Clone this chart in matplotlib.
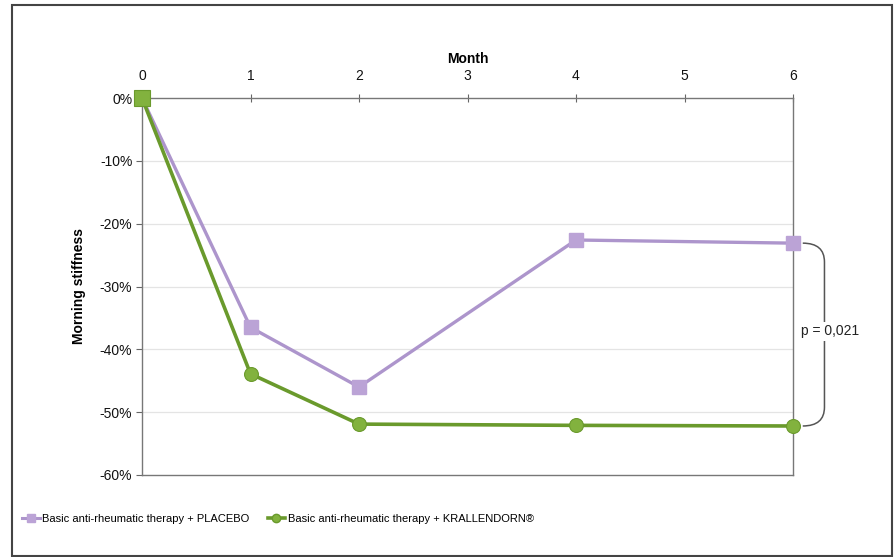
import matplotlib
matplotlib.use("Agg")
import matplotlib.pyplot as plt
from matplotlib.path import Path
from matplotlib.patches import PathPatch, Rectangle
from matplotlib.lines import Line2D
from matplotlib.ticker import FuncFormatter

plt.rcParams['font.family'] = ['Liberation Sans', 'DejaVu Sans']

# Data: change in morning stiffness (%) versus month
months = [0, 1, 2, 4, 6]
placebo = [0.0, -36.5, -46.0, -22.6, -23.1]
krallendorn = [0.0, -43.9, -51.9, -52.1, -52.2]
month_ticks = [0, 1, 2, 3, 4, 5, 6]
pct_ticks = [0, -10, -20, -30, -40, -50, -60]
label_placebo = "Basic anti-rheumatic therapy + PLACEBO"
label_krall = "Basic anti-rheumatic therapy + KRALLENDORN®"
p_text = "p = 0,021"

purple_line = "#ad95cc"
purple_face = "#bba3d6"
green_line = "#6a9a2c"
green_face = "#82b23e"

W, H = 896, 557
fig = plt.figure(figsize=(W / 100, H / 100), dpi=100)
ax = fig.add_axes([142 / W, (H - 475) / H, 651 / W, 377 / H])

ax.plot(months, placebo, color=purple_line, lw=2.4, marker="s", ms=10,
        mfc=purple_face, mec=purple_face, label=label_placebo, zorder=3, clip_on=False)
ax.plot(months, krallendorn, color=green_line, lw=2.6, marker="o", ms=10,
        mfc=green_face, mec=green_line, mew=0.8, label=label_krall, zorder=4, clip_on=False)
# the shared starting point is drawn as a green square
ax.plot(months[:1], krallendorn[:1], marker="s", ms=11, mfc=green_face, mec=green_line,
        mew=0.8, ls="none", zorder=5, clip_on=False)

ax.set_xlim(0, 6)
ax.set_ylim(-60, 0)
ax.set_xticks(month_ticks)
ax.set_yticks(pct_ticks)
ax.yaxis.set_major_formatter(FuncFormatter(lambda v, _: f"{v:.0f}%"))
ax.xaxis.tick_top()
ax.xaxis.set_label_position("top")
ax.tick_params(axis="x", direction="inout", length=6, width=0.8, colors="#666666",
               labelcolor="#111111", labelsize=10, pad=8)
ax.tick_params(axis="y", direction="out", length=4, width=0.8, colors="#666666",
               labelcolor="#111111", labelsize=10, pad=3)
ax.set_xlabel("Month", fontsize=10, fontweight="bold", labelpad=4)
ax.set_ylabel("Morning stiffness", fontsize=10, fontweight="bold", labelpad=10)
for y in pct_ticks[1:-1]:
    ax.axhline(y, color="#e4e4e4", lw=0.9, zorder=0)
for s in ax.spines.values():
    s.set_color("#777777")
    s.set_linewidth(1.0)

# Bracket linking the two curves at month 6
y_top, y_bot = placebo[-1], krallendorn[-1]
x0, x1 = 6.09, 6.29
r = 3.0
verts = [(x0, y_top), (x1, y_top), (x1, y_top - r),
         (x1, y_bot + r),
         (x1, y_bot), (x0, y_bot)]
codes = [Path.MOVETO, Path.CURVE3, Path.CURVE3, Path.LINETO, Path.CURVE3, Path.CURVE3]
ax.add_patch(PathPatch(Path(verts, codes), fill=False, ec="#555555", lw=1.1,
                       clip_on=False, zorder=2))
ax.text(6.34, (y_top + y_bot) / 2 + 0.5, p_text, ha="center", va="center",
        fontsize=10, color="#222222", clip_on=False, zorder=5,
        bbox=dict(boxstyle="square,pad=0.15", fc="white", ec="none"))

# Legend below the plot
handles = [
    Line2D([], [], color=purple_line, lw=2.2, marker="s", ms=6, mfc=purple_face, mec=purple_face),
    Line2D([], [], color=green_line, lw=2.6, marker="o", ms=6, mfc=green_face, mec=green_line),
]
fig.legend(handles, [label_placebo, label_krall], loc="center", ncol=2,
           bbox_to_anchor=(278 / W, 1 - 519 / H), frameon=False,
           fontsize=8, handlelength=1.6, handletextpad=0.2, columnspacing=1.6)

# Outer frame
fig.patches.append(Rectangle((12 / W, 1 - 556 / H), 880 / W, 551 / H,
                             transform=fig.transFigure, fill=False,
                             ec="#444444", lw=1.5))

fig.savefig("out.png", dpi=100)
